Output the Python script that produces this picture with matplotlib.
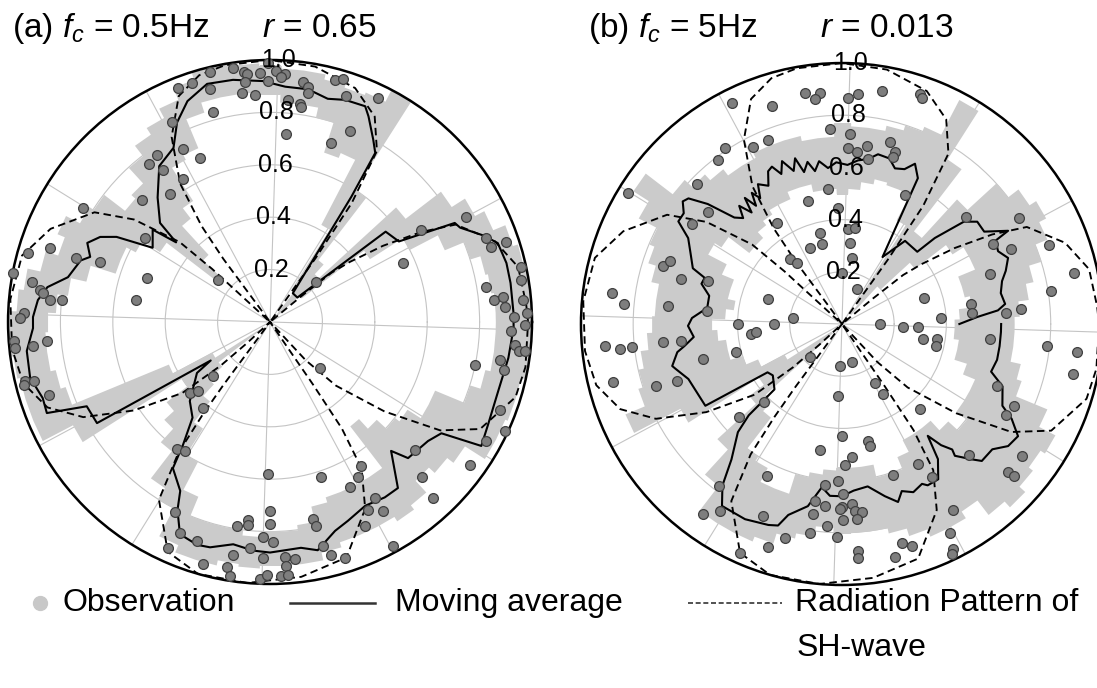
import numpy as np
import matplotlib
matplotlib.use("Agg")
import matplotlib.pyplot as plt
from matplotlib.lines import Line2D

plt.rcParams['font.family'] = ['Liberation Sans', 'DejaVu Sans']
plt.rcParams['mathtext.fontset'] = 'custom'
plt.rcParams['mathtext.rm'] = 'Liberation Sans'
plt.rcParams['mathtext.it'] = 'Liberation Sans:italic'

# angles in degrees as seen on the page (counter-clockwise from east)
# radiation pattern of SH-wave (same for both panels)
rp = [(0, 0.985), (4, 0.98), (12.5, 0.97), (20, 0.91), (27.7, 0.80), (30.8, 0.67),
      (34, 0.52), (37, 0.38), (38.7, 0.30), (39.5, 0.15), (40, 0.0),
      (54, 0.0), (54.5, 0.3), (55.5, 0.55), (58, 0.77), (63, 0.88), (70, 0.95),
      (80, 0.99), (90, 1.0), (100, 0.995), (106, 0.98), (112, 0.93), (118, 0.80),
      (123, 0.63), (125.5, 0.45), (126.5, 0.3), (127, 0.0),
      (137, 0.0), (137.5, 0.3), (138.5, 0.46), (143, 0.65), (148, 0.79), (157, 0.91),
      (165, 0.98), (175, 0.995), (186, 0.99), (194, 0.97), (201, 0.91), (207, 0.80),
      (213, 0.62), (219, 0.43), (221.5, 0.25), (222.5, 0.12), (223, 0.0),
      (233, 0.0), (233.5, 0.3), (234, 0.44), (235, 0.61), (238, 0.80), (246, 0.96),
      (254, 1.0), (265, 1.0), (277, 0.98), (288, 0.945), (297, 0.80), (302, 0.66),
      (304, 0.49), (304.5, 0.29), (305, 0.0),
      (310, 0.0), (313, 0.2), (316, 0.35), (322, 0.555), (327.5, 0.77), (333, 0.90),
      (343, 0.98), (350, 0.99), (360, 0.985)]

band_deg = list(range(0, 361, 5))

# (a) fc = 0.5 Hz
band_a_lo = [0.86, 0.86, 0.85, 0.84, 0.80, 0.72, 0.60, 0.45, 0.15, 0.03, 0.03, 0.15,
             0.42, 0.70, 0.68, 0.80, 0.84, 0.84, 0.87, 0.88, 0.88, 0.88, 0.84, 0.72,
             0.70, 0.55, 0.50, 0.35, 0.25, 0.50, 0.58, 0.62, 0.62, 0.72, 0.78, 0.82,
             0.85, 0.86, 0.86, 0.84, 0.82, 0.42, 0.25, 0.05, 0.25, 0.32, 0.38, 0.48,
             0.60, 0.72, 0.80, 0.80, 0.80, 0.82, 0.80, 0.80, 0.78, 0.72, 0.70, 0.70,
             0.70, 0.70, 0.50, 0.55, 0.60, 0.62, 0.68, 0.68, 0.80, 0.84, 0.86, 0.86, 0.86]
band_a_hi = [1.0, 1.0, 1.0, 0.99, 0.97, 0.92, 0.88, 0.82, 0.65, 0.25, 0.30, 0.60,
             1.0, 0.95, 0.94, 0.95, 0.97, 0.97, 0.98, 0.99, 1.0, 1.0, 0.97, 0.92,
             0.88, 0.85, 0.80, 0.72, 0.70, 0.80, 0.82, 0.88, 0.85, 0.90, 0.95, 0.97,
             1.0, 1.0, 0.99, 0.98, 0.98, 0.98, 0.85, 0.40, 0.50, 0.55, 0.62, 0.75,
             0.80, 0.92, 0.95, 0.95, 0.93, 0.94, 0.93, 0.93, 0.93, 0.90, 0.88, 0.88,
             0.88, 0.90, 0.88, 0.82, 0.85, 0.88, 0.97, 0.97, 0.98, 0.98, 1.0, 1.0, 1.0]

avg_a = [(-1.4, 0.93), (2.1, 0.93), (9.2, 0.93), (14, 0.93), (19.1, 0.92), (22, 0.88),
         (26.4, 0.81), (28.2, 0.80), (32, 0.58), (38, 0.56), (41.8, 0.14), (51.6, 0.14),
         (57, 0.57), (58.1, 0.76), (60.5, 0.80), (64.4, 0.87), (66.2, 0.90), (71.3, 0.895),
         (75.5, 0.88), (80.7, 0.90), (86.3, 0.90), (91.7, 0.92), (98.7, 0.935), (104.8, 0.94),
         (110.5, 0.90), (115, 0.84), (119, 0.76), (125.4, 0.73), (132.1, 0.64), (138, 0.565),
         (139.7, 0.47), (141.8, 0.57), (147.7, 0.53), (151, 0.67), (153.4, 0.725),
         (156.6, 0.76), (160.1, 0.73), (162, 0.76), (167.5, 0.79), (171.1, 0.86),
         (174.6, 0.89), (178.8, 0.905), (181.5, 0.905), (186.8, 0.935), (193.1, 0.94),
         (198.5, 0.915), (202.2, 0.92), (204.7, 0.77), (210.3, 0.765), (213, 0.27),
         (214.9, 0.34), (224.6, 0.43), (231, 0.47), (234.7, 0.575), (236.4, 0.67),
         (242, 0.73), (243.8, 0.80), (247, 0.88), (251.9, 0.895), (255.1, 0.89),
         (260.6, 0.86), (265.8, 0.875), (270, 0.88), (277.8, 0.87), (281.8, 0.89),
         (287.3, 0.835), (291.4, 0.815), (297.4, 0.79), (303.2, 0.80), (307.6, 0.80),
         (313.2, 0.675), (315.4, 0.74), (323, 0.755), (327, 0.78), (329.6, 0.935),
         (334.7, 0.92), (343.2, 0.91), (351.4, 0.92), (358.6, 0.93)]

obs_a = [(103.5, 0.98), (98.3, 0.98), (96, 0.96), (95.3, 0.95), (92.3, 0.95), (90.5, 0.92),
         (96, 0.92), (111.5, 0.96), (108, 0.96), (104.4, 0.92), (97, 0.88), (93.8, 0.87),
         (105.3, 0.83), (116.2, 0.85), (116.8, 0.74), (113, 0.68), (124.1, 0.77),
         (127.5, 0.76), (125.1, 0.71), (121.4, 0.64), (127.8, 0.62), (136.4, 0.675),
         (148.6, 0.835), (146.1, 0.575), (161.4, 0.886), (164.1, 0.96), (161.7, 0.78),
         (160.6, 0.69), (160.3, 0.50), (170.7, 0.52), (141, 0.255), (170.4, 0.92),
         (172, 0.885), (172.7, 0.875), (174.3, 0.845), (174, 0.80), (177.9, 0.94),
         (179, 0.955), (169.2, 1.0), (184.2, 0.98), (185.8, 0.98), (185.8, 0.91),
         (184.9, 0.855), (193.5, 0.96), (193.9, 0.93), (194.3, 0.97), (198.2, 0.89),
         (223, 0.30), (221.6, 0.41), (223.8, 0.38), (232, 0.415), (233.6, 0.60),
         (236.6, 0.59), (243.3, 0.81), (246.9, 0.875), (245.7, 0.945), (251.6, 0.88),
         (254.6, 0.96), (260, 0.95), (261, 0.98), (261, 0.90), (260.8, 0.79), (263.7, 0.76),
         (263.8, 0.78), (268, 0.82), (269.2, 0.58), (270, 0.72), (270, 0.77), (265, 0.865),
         (268.3, 0.90), (267.8, 0.98), (269.3, 0.965), (348.2, 0.80), (350.7, 0.89),
         (348.4, 0.91), (357.9, 0.92), (359.3, 0.975), (354.6, 0.94), (353.3, 0.955),
         (353.5, 0.98), (339.1, 0.94), (335.1, 0.99), (331.2, 0.94), (318.6, 0.74),
         (324.4, 0.94), (314.4, 0.83), (312.8, 0.915), (317.4, 0.26), (288.3, 0.625),
         (296, 0.70), (299.7, 0.68), (302.3, 0.65), (300.8, 0.78), (300.9, 0.84),
         (297.5, 0.81), (295, 0.86), (298.8, 0.975), (282.3, 0.77), (282.7, 0.80),
         (283.3, 0.88), (270.8, 0.84), (273.6, 0.90), (276, 0.91), (273.8, 0.935),
         (272.5, 0.97), (274, 0.97), (284.6, 0.92), (287.6, 0.945), (90.4, 0.99),
         (88.6, 0.96), (86.6, 0.95), (87.4, 0.935), (82.2, 0.925), (80.8, 0.91),
         (80.6, 0.885), (75, 0.957), (73.3, 0.97), (71.5, 0.91), (64.3, 0.95), (85.4, 0.85),
         (82.2, 0.84), (81.8, 0.83), (85.2, 0.72), (71.2, 0.72), (67.2, 0.79), (28.2, 0.85),
         (31.4, 0.675), (23.9, 0.555), (21.2, 0.885), (18.7, 0.89), (18.7, 0.95),
         (9.2, 0.835), (5.6, 0.86), (6.1, 0.895), (3.6, 0.90), (1.2, 0.93), (12.4, 0.98),
         (9.5, 0.97), (5, 0.97), (2, 0.98), (41, 0.23)]

# (b) fc = 5 Hz
band_b_lo = [0.43, 0.45, 0.50, 0.48, 0.48, 0.55, 0.55, 0.50, 0.35, 0.20, 0.05, 0.10,
             0.45, 0.56, 0.56, 0.57, 0.55, 0.52, 0.50, 0.52, 0.52, 0.55, 0.55, 0.52,
             0.52, 0.50, 0.48, 0.45, 0.45, 0.55, 0.58, 0.50, 0.45, 0.45, 0.42, 0.45,
             0.50, 0.48, 0.45, 0.45, 0.40, 0.35, 0.25, 0.05, 0.05, 0.40, 0.45, 0.60,
             0.62, 0.68, 0.68, 0.60, 0.58, 0.56, 0.55, 0.55, 0.55, 0.60, 0.60, 0.55,
             0.50, 0.50, 0.50, 0.55, 0.60, 0.55, 0.55, 0.55, 0.50, 0.45, 0.45, 0.43, 0.43]
band_b_hi = [0.66, 0.68, 0.72, 0.75, 0.80, 0.85, 0.88, 0.85, 0.80, 0.65, 0.45, 0.75,
             0.97, 0.82, 0.80, 0.78, 0.76, 0.76, 0.77, 0.72, 0.72, 0.74, 0.74, 0.74,
             0.72, 0.72, 0.75, 0.78, 0.82, 0.95, 0.88, 0.80, 0.78, 0.75, 0.72, 0.72,
             0.73, 0.75, 0.78, 0.80, 0.82, 0.90, 0.70, 0.38, 0.45, 0.65, 0.78, 0.90,
             0.90, 0.90, 0.88, 0.84, 0.82, 0.78, 0.80, 0.80, 0.80, 0.82, 0.85, 0.88,
             0.88, 0.85, 0.92, 0.95, 0.92, 0.90, 0.92, 0.85, 0.72, 0.70, 0.66, 0.66, 0.66]

avg_b = [(0, 0.45), (3, 0.52), (5, 0.60), (7, 0.63), (11, 0.62), (15, 0.635), (18, 0.66),
         (21.7, 0.685), (25, 0.66), (28.5, 0.67), (29.3, 0.73), (33, 0.65), (37.1, 0.65),
         (40, 0.61), (42.8, 0.485), (43.8, 0.40), (52.8, 0.40), (58.8, 0.30), (62.5, 0.63),
         (65.5, 0.675), (68, 0.64), (71.2, 0.63), (74, 0.66), (78, 0.665), (81, 0.64),
         (84.4, 0.63), (88, 0.61), (92, 0.62), (95.1, 0.60), (98, 0.63), (100, 0.595),
         (102, 0.635), (104, 0.60), (105.8, 0.66), (107.5, 0.615), (110.2, 0.665), (112, 0.62),
         (114, 0.66), (115.8, 0.65), (118, 0.60), (121, 0.625), (123, 0.575), (124.5, 0.61),
         (126, 0.56), (127.6, 0.61), (129, 0.55), (131, 0.60), (133, 0.555), (135.3, 0.58),
         (138.2, 0.69), (140.7, 0.76), (142.4, 0.77), (145, 0.74), (147.9, 0.74),
         (150.8, 0.675), (155, 0.64), (159.5, 0.61), (161.4, 0.555), (164, 0.56),
         (168, 0.52), (173.2, 0.52), (177.7, 0.575), (180.7, 0.59), (185, 0.57), (188, 0.61),
         (189.7, 0.64), (193.9, 0.67), (195.1, 0.66), (199.7, 0.625), (210.9, 0.61),
         (213, 0.34), (216.6, 0.33), (224.1, 0.36), (224.4, 0.50), (226.1, 0.575),
         (230.8, 0.67), (233.5, 0.77), (236.6, 0.835), (243.6, 0.835), (249.9, 0.82),
         (252.4, 0.81), (254.3, 0.76), (259.4, 0.71), (263, 0.63), (266, 0.66), (270, 0.66),
         (274, 0.64), (279, 0.63), (284, 0.68), (287.5, 0.715), (289.7, 0.68), (293, 0.70),
         (296.6, 0.685), (298, 0.70), (301.8, 0.70), (305.4, 0.635), (307.5, 0.54),
         (309.3, 0.60), (311.3, 0.64), (310.6, 0.665), (313.9, 0.72), (315.6, 0.75),
         (320.2, 0.75), (323.7, 0.79), (327.5, 0.80), (330.8, 0.745), (333, 0.69),
         (338.8, 0.66), (342.3, 0.60), (347, 0.61), (352, 0.61), (357.1, 0.61), (360, 0.61)]

obs_b = [(99.1, 0.896), (95.4, 0.889), (96.8, 0.868), (88.5, 0.866), (86, 0.883), (80.3, 0.906),
         (71.3, 0.93), (70.5, 0.92), (116.5, 0.946), (107.8, 0.877), (93.5, 0.75), (87.6, 0.73),
         (111.8, 0.76), (116.6, 0.76), (123.6, 0.81), (127.1, 0.79), (88, 0.675), (85, 0.66),
         (82, 0.69), (81.1, 0.64), (75.1, 0.72), (73, 0.69), (73.1, 0.67), (136, 0.77),
         (148.6, 0.96), (95.9, 0.52), (105.5, 0.49), (63.8, 0.55), (92, 0.445), (140, 0.67),
         (122.8, 0.46), (40.8, 0.63), (31, 0.79), (146.1, 0.69), (103.6, 0.36), (86.4, 0.365),
         (82.3, 0.37), (112.8, 0.316), (104, 0.316), (84.4, 0.31), (27.9, 0.655), (23.8, 0.71),
         (21, 0.85), (128.7, 0.32), (126.4, 0.29), (162, 0.72), (159.9, 0.70), (81.4, 0.256),
         (18.7, 0.60), (12.3, 0.91), (8.9, 0.81), (164.5, 0.64), (162.3, 0.54), (172.3, 0.89),
         (174.8, 0.84), (174.1, 0.67), (161.3, 0.30), (173.2, 0.19), (66.8, 0.146),
         (17.4, 0.33), (3.4, 0.38), (8.9, 0.50), (4.8, 0.50), (4.8, 0.69), (3.9, 0.63),
         (174.5, 0.52), (90, 0.195), (180, 0.40), (186.3, 0.35), (185.4, 0.33), (180, 0.26),
         (0, 0.146), (357.2, 0.234), (357.7, 0.29), (349.5, 0.316), (351.1, 0.37), (347, 0.37),
         (354.2, 0.57), (353.9, 0.79), (353.2, 0.907), (347.8, 0.905), (338.3, 0.64),
         (334.6, 0.73), (330.9, 0.72), (312.5, 0.44), (323.7, 0.855), (318.3, 0.85),
         (318.7, 0.88), (314.1, 0.70), (185.3, 0.91), (186.4, 0.856), (186.3, 0.81),
         (185.7, 0.69), (186, 0.62), (194.2, 0.905), (198.5, 0.75), (199, 0.67), (194, 0.55),
         (194.7, 0.42), (225.9, 0.176), (267.3, 0.16), (284.7, 0.15), (266.8, 0.276),
         (298.8, 0.26), (300.4, 0.31), (225, 0.42), (222, 0.53), (270, 0.43), (282.4, 0.46),
         (282.8, 0.48), (260.2, 0.49), (274.3, 0.51), (271.2, 0.54), (298.5, 0.61),
         (243.7, 0.65), (288.8, 0.61), (268.5, 0.60), (264, 0.62), (300.6, 0.68),
         (232.7, 0.78), (233.8, 0.90), (236.9, 0.855), (270.3, 0.65), (261.3, 0.686),
         (264.7, 0.70), (270, 0.70), (269.4, 0.71), (273.2, 0.69), (274, 0.72), (276, 0.725),
         (274.4, 0.75), (270.3, 0.75), (261.3, 0.736), (265.8, 0.776), (247.6, 0.795),
         (300.7, 0.83), (297.4, 0.90), (296.3, 0.96), (295.6, 0.977), (285.3, 0.87),
         (287.5, 0.89), (282.8, 0.915), (274, 0.87), (273.9, 0.90), (261.3, 0.81),
         (268.7, 0.816), (255.2, 0.85), (251.6, 0.90), (246.1, 0.96)]

r_ticks = [0.2, 0.4, 0.6, 0.8, 1.0]
grid_shift = -1.8   # the whole polar grid is turned a little clockwise on the page


def draw_panel(ax, lo, hi, avg, obs):
    rad = np.deg2rad
    ax.set_axisbelow(True)
    ax.fill_between(rad(band_deg), lo, hi, step='mid', color='#cbcbcb', lw=0, zorder=1)
    rp_arr = np.array(rp)
    ax.plot(rad(rp_arr[:, 0]), rp_arr[:, 1], color='k', lw=1.35, ls=(0, (4, 2.4)), zorder=2)
    avg_arr = np.array(avg)
    ax.plot(rad(avg_arr[:, 0]), avg_arr[:, 1], color='k', lw=1.5, zorder=3)
    obs_arr = np.array(obs)
    ax.scatter(rad(obs_arr[:, 0]), obs_arr[:, 1], s=50, c='#7e7e7e', edgecolors='#404040',
               linewidths=0.9, zorder=4, clip_on=False)

    ax.set_thetagrids((np.arange(0, 360, 30) + grid_shift) % 360, labels=[])
    ax.set_rgrids(r_ticks[:-1], labels=[])
    ax.set_xticks(rad((np.arange(45, 360, 90) + grid_shift) % 360), minor=True)
    ax.tick_params(axis='x', which='major', length=0)
    ax.tick_params(axis='x', which='minor', length=7, width=1.0, color='#333333', direction='in')
    ax.grid(True, which='major', color='#c4c4c4', lw=0.8)
    ax.spines['polar'].set_linewidth(1.8)
    ax.spines['polar'].set_color('k')
    ax.set_xlim(0, 2 * np.pi)
    ax.set_ylim(0, 1)
    for r in r_ticks:
        ax.text(rad(90 + grid_shift), r, f'{r:.1f}', ha='center', va='center',
                fontsize=18, zorder=5)


fig = plt.figure(figsize=(10.97, 6.88), dpi=100)
ax_a = fig.add_axes([0.0073, 0.1512, 0.4777, 0.7616], projection='polar')
ax_b = fig.add_axes([0.5296, 0.1497, 0.4758, 0.7587], projection='polar')
draw_panel(ax_a, band_a_lo, band_a_hi, avg_a, obs_a)
draw_panel(ax_b, band_b_lo, band_b_hi, avg_b, obs_b)

# panel titles
ty = 1 - 37 / 688
fig.text(12 / 1097, ty, r'(a) $f_c$ = 0.5Hz', fontsize=24, va='baseline')
fig.text(262 / 1097, ty, r'$r$ = 0.65', fontsize=24, va='baseline')
fig.text(588 / 1097, ty, r'(b) $f_c$ = 5Hz', fontsize=24, va='baseline')
fig.text(820 / 1097, ty, r'$r$ = 0.013', fontsize=24, va='baseline')

# legend along the bottom
ly = 1 - 603 / 688
fig.add_artist(Line2D([40 / 1097], [ly], marker='o', ms=10, color='#c8c8c8', ls='none'))
fig.text(63 / 1097, ly, 'Observation', fontsize=23, va='center')
fig.add_artist(Line2D([290 / 1097, 375 / 1097], [ly, ly], color='#333333', lw=1.8))
fig.text(395 / 1097, ly, 'Moving average', fontsize=23, va='center')
fig.add_artist(Line2D([688 / 1097, 782 / 1097], [ly, ly], color='#333333', lw=1.2,
                      ls=(0, (3, 1.6))))
fig.text(795 / 1097, ly, 'Radiation Pattern of', fontsize=23, va='center')
fig.text(797 / 1097, 1 - 648 / 688, 'SH-wave', fontsize=23, va='center')

fig.savefig('out.png', dpi=100)
